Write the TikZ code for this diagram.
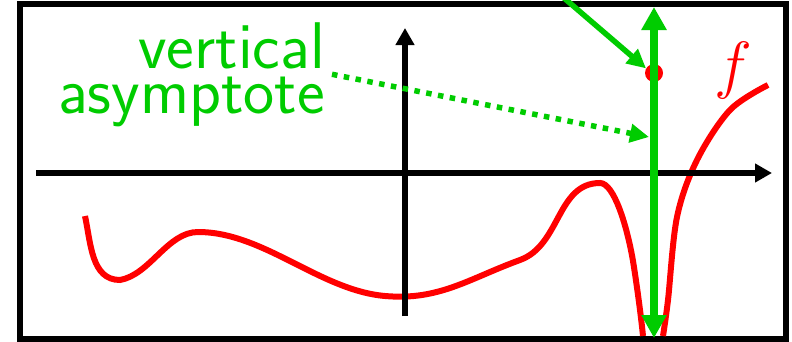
\RequirePackage{fix-cm}
\documentclass[tikz,border=0pt]{standalone}
\usepackage{fontspec}
\usepackage{tikz}
\usetikzlibrary{arrows.meta,positioning}
\definecolor{asymgreen}{RGB}{0,204,0}

\begin{document}
\begin{tikzpicture}[
    x=1pt, y=1pt,
    frame/.style={draw=black, line width=6pt},
    axis/.style={draw=black, line width=5.5pt, -{Triangle[length=17pt,width=18pt]}},
    graph/.style={draw=red, line width=6pt},
    asym/.style={draw=asymgreen, line width=7.5pt, {Triangle[length=23pt,width=24pt]}-{Triangle[length=23pt,width=24pt]}},
    pointer/.style={draw=asymgreen, line width=5.5pt, -{Triangle[length=19pt,width=18pt]}},
    asymtext/.style={text=asymgreen, font=\sffamily\fontsize{66}{45}\selectfont, align=right, inner sep=0pt},
]
    \useasboundingbox (0,0) rectangle (792,341);
    \clip (0,0) rectangle (792,341);
    \fill[white] (0,0) rectangle (792,341);
    \draw[frame] (20,2.5) rectangle (786,336.5);

    \draw[graph] (85,125) to[out=-78,in=180] (120,61) to[out=10,in=180,looseness=0.85] (198,109)
        to[out=0,in=175,looseness=0.85] (385,45) to[out=-5,in=200] (520,81) to[out=20,in=180] (600,158)
        .. controls (614,158) and (627,115) .. (633,80) .. controls (637,55) and (641,25) .. (643,5);
    \draw[graph] plot[smooth, tension=0.55] coordinates {(663,5) (668,41) (677,124) (697,181) (730,231) (768,256)};

    \coordinate (xstart) at (36,168);
    \coordinate (xend) at (772,168);
    \coordinate (ystart) at (405,25);
    \coordinate (yend) at (405,313);
    \draw[axis] (xstart) -- (xend);
    \draw[axis] (ystart) -- (yend);

    \node[circle, fill=red, minimum size=18pt, inner sep=0pt] (pole) at (654,268) {};
    \node[asymtext, anchor=base east] (asymlabel) at (325,228) {vertical\\asymptote};
    \node[text=red, font=\fontsize{64}{64}\selectfont, inner sep=0pt] (fname) at (733,271) {$f$};

    \coordinate (abot) at (654,3);
    \coordinate (atop) at (654,334);
    \coordinate (from) at (557,349);
    \coordinate (onasym) at (649,204);
    \draw[asym] (abot) -- (atop);
    \draw[pointer] (from) -- (pole.150);
    \draw[pointer, dash pattern=on 5.5pt off 6.5pt] ([xshift=7pt]asymlabel.east) -- (onasym);
\end{tikzpicture}
\end{document}
